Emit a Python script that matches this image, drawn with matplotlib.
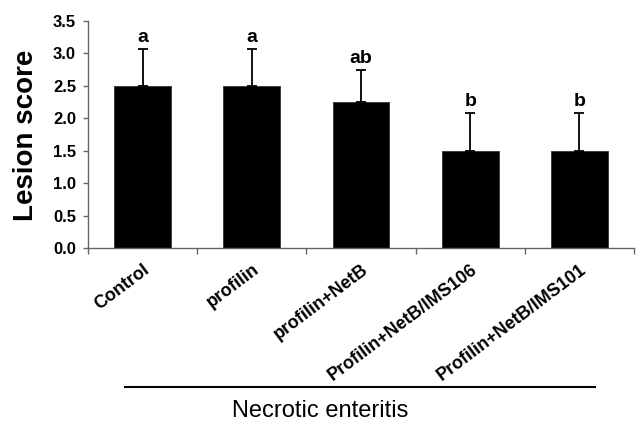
import numpy as np
import matplotlib.pyplot as plt

# data
groups = ["Control", "profilin", "profilin+NetB",
          "Profilin+NetB/IMS106", "Profilin+NetB/IMS101"]
lesion = [2.5, 2.5, 2.25, 1.5, 1.5]
err_up = [0.57, 0.57, 0.5, 0.58, 0.58]
letters = ["a", "a", "ab", "b", "b"]

plt.rcParams['font.family'] = ['Liberation Sans', 'DejaVu Sans']

fig = plt.figure(figsize=(6.38, 4.23), dpi=100)
ax = fig.add_axes([88/638, 1 - 248.3/423, (634 - 88)/638, (248.3 - 21)/423])

x = np.arange(len(groups))
ax.bar(x, lesion, width=0.52, color='black', edgecolor='#333333', linewidth=0.6)
ax.errorbar(x, lesion, yerr=[np.zeros(len(err_up)), err_up], fmt='none',
            ecolor='black', elinewidth=1.3, capsize=3.3, capthick=1.3)

for xi, m, e, lab in zip(x, lesion, err_up, letters):
    ax.annotate(lab, (xi, m + e), xytext=(0, 2), textcoords='offset points',
                ha='center', va='bottom', fontsize=14, fontweight='bold')

ax.set_xlim(-0.5, len(groups) - 0.5)
ax.set_ylim(0, 3.5)
ax.set_yticks(np.arange(0, 3.51, 0.5))
ax.set_yticklabels([f"{v:.1f}" for v in np.arange(0, 3.51, 0.5)],
                   fontsize=12, fontweight='bold')
ax.tick_params(axis='y', direction='out', length=3.6, width=1, color='#666666', pad=5)

# category boundaries get the tick marks, labels sit under the bars
ax.set_xticks(np.arange(-0.5, len(groups), 1.0), minor=True)
ax.tick_params(axis='x', which='minor', direction='out', length=4, width=1, color='#666666')
ax.set_xticks(x)
ax.set_xticklabels(groups, fontsize=13, fontweight='bold', rotation=37,
                   ha='right', va='top', rotation_mode='anchor')
ax.tick_params(axis='x', which='major', length=0, pad=9)

for s in ['top', 'right']:
    ax.spines[s].set_visible(False)
for s in ['left', 'bottom']:
    ax.spines[s].set_color('#666666')
    ax.spines[s].set_linewidth(1)

fig.text(26/638, 1 - 135/423, "Lesion score", rotation=90, ha='center', va='center',
         fontsize=20, fontweight='bold')

# bracket line and group caption
fig.add_artist(plt.Line2D([125/638, 595/638], [1 - 387/423, 1 - 387/423],
                          color='black', linewidth=1.5))
fig.text(320/638, 1 - 411/423, "Necrotic enteritis", ha='center', va='center', fontsize=17)

fig.savefig("out.png", dpi=100)
